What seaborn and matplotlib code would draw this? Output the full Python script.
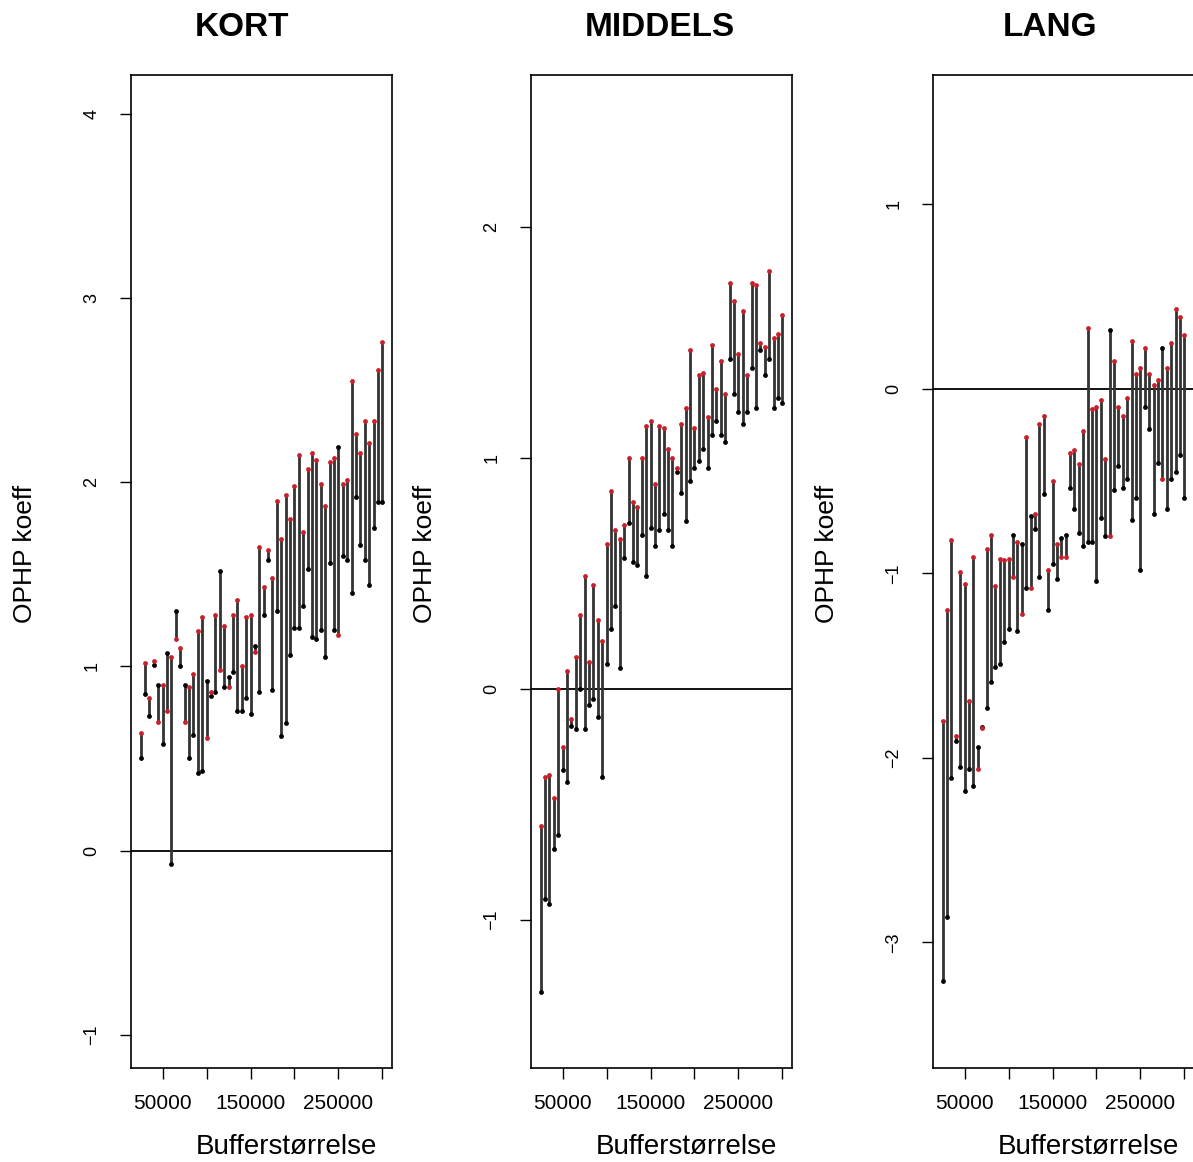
import pandas as pd
import matplotlib
matplotlib.use("Agg")
import matplotlib.pyplot as plt
import seaborn as sns

# Buffer sizes (x) shared by the three panels
buffer_size = [25000, 30000, 35000, 40000, 45000, 50000, 55000, 60000, 65000, 70000,
               75000, 80000, 85000, 90000, 95000, 100000, 105000, 110000, 115000, 120000,
               125000, 130000, 135000, 140000, 145000, 150000, 155000, 160000, 165000, 170000,
               175000, 180000, 185000, 190000, 195000, 200000, 205000, 210000, 215000, 220000,
               225000, 230000, 235000, 240000, 245000, 250000, 255000, 260000, 265000, 270000,
               275000, 280000, 285000, 290000, 295000, 300000]

# KORT: black end / red end of each segment
kort_black = [0.50, 0.85, 0.73, 1.01, 0.90, 0.58, 1.07, -0.07, 1.30, 1.00,
              0.90, 0.50, 0.63, 0.42, 0.43, 0.92, 0.84, 0.86, 1.52, 0.89,
              0.94, 0.97, 0.76, 0.76, 0.83, 0.74, 1.11, 0.86, 1.28, 1.58,
              0.87, 1.30, 0.62, 0.69, 1.06, 1.21, 1.21, 1.33, 1.53, 1.16,
              1.15, 1.20, 1.05, 1.56, 1.20, 2.19, 1.60, 1.58, 1.40, 1.92,
              1.66, 1.58, 1.44, 1.75, 1.89, 1.89]
kort_red = [0.64, 1.02, 0.83, 1.03, 0.70, 0.90, 0.76, 1.05, 1.15, 1.10,
            0.70, 0.89, 0.96, 1.19, 1.27, 0.61, 0.86, 1.28, 0.98, 1.22,
            0.89, 1.28, 1.36, 1.00, 1.27, 1.28, 1.08, 1.65, 1.43, 1.63,
            1.48, 1.90, 1.69, 1.93, 1.80, 1.98, 2.15, 1.73, 2.07, 2.16,
            2.12, 1.99, 1.87, 2.11, 2.13, 1.17, 1.99, 2.01, 2.55, 2.26,
            2.16, 2.33, 2.21, 2.33, 2.61, 2.76]

# MIDDELS
middels_black = [-1.31, -0.91, -0.93, -0.69, -0.63, -0.35, -0.40, -0.16, -0.17, 0.00,
                 -0.17, -0.07, -0.04, -0.12, -0.38, 0.11, 0.26, 0.36, 0.09, 0.57,
                 0.72, 0.55, 0.54, 0.67, 0.49, 0.70, 0.62, 0.69, 0.76, 0.69,
                 0.62, 0.94, 0.85, 0.73, 0.90, 0.96, 0.99, 1.04, 0.96, 1.10,
                 1.16, 1.10, 1.07, 1.43, 1.28, 1.20, 1.15, 1.20, 1.39, 1.22,
                 1.47, 1.36, 1.43, 1.22, 1.26, 1.24]
middels_red = [-0.59, -0.38, -0.37, -0.47, 0.00, -0.25, 0.08, -0.13, 0.14, 0.32,
               0.49, 0.12, 0.45, 0.30, 0.21, 0.63, 0.86, 0.69, 0.65, 0.71,
               1.00, 0.81, 0.79, 1.00, 1.14, 1.16, 0.89, 1.14, 1.13, 1.04,
               1.00, 0.96, 1.15, 1.22, 1.47, 1.13, 1.36, 1.37, 1.18, 1.49,
               1.30, 1.42, 1.28, 1.76, 1.68, 1.45, 1.64, 1.36, 1.76, 1.75,
               1.50, 1.48, 1.81, 1.52, 1.54, 1.62]

# LANG
lang_black = [-3.21, -2.86, -2.11, -1.91, -2.05, -2.18, -2.06, -2.15, -1.94, -1.83,
              -1.73, -1.59, -1.51, -1.49, -1.37, -1.30, -0.79, -1.31, -0.84, -1.08,
              -0.69, -0.76, -1.02, -0.57, -1.20, -0.95, -1.03, -0.81, -0.79, -0.54,
              -0.65, -0.78, -0.85, -0.83, -0.83, -1.04, -0.70, -0.80, 0.32, -0.55,
              -0.42, -0.54, -0.49, -0.71, -0.59, -0.98, -0.10, -0.22, -0.68, -0.40,
              0.22, -0.65, -0.49, -0.45, -0.36, -0.59]
lang_red = [-1.80, -1.20, -0.82, -1.88, -0.99, -1.06, -1.69, -0.91, -2.06, -1.84,
            -0.87, -0.79, -1.07, -0.92, -0.93, -0.92, -1.02, -0.83, -1.22, -0.26,
            -1.08, -0.68, -0.19, -0.15, -0.98, -0.50, -0.84, -0.91, -0.91, -0.35,
            -0.33, -0.41, -0.23, 0.33, -0.11, -0.10, -0.06, -0.38, -0.80, 0.15,
            -0.10, -0.15, -0.05, 0.26, 0.08, 0.11, 0.22, 0.08, 0.02, 0.05,
            -0.49, 0.11, 0.25, 0.43, 0.39, 0.29]

titles = ["KORT", "MIDDELS", "LANG"]
y_ticks = [[-1, 0, 1, 2, 3, 4], [-1, 0, 1, 2], [-3, -2, -1, 0, 1]]
y_limits = [(-1.18, 4.21), (-1.64, 2.66), (-3.68, 1.70)]
x_ticks = [50000, 100000, 150000, 200000, 250000, 300000]
x_tick_labels = ["50000", "", "150000", "", "250000", ""]

sns.set_style("white")
plt.rcParams["font.family"] = ["Liberation Sans", "DejaVu Sans"]
plt.rcParams["text.color"] = "black"
plt.rcParams["axes.labelcolor"] = "black"
plt.rcParams["xtick.color"] = "black"
plt.rcParams["ytick.color"] = "black"

W, H = 1193, 1162
fig = plt.figure(figsize=(W / 100, H / 100), dpi=100)

panels = [(kort_black, kort_red), (middels_black, middels_red), (lang_black, lang_red)]
left_px = [131, 531, 933]
title_x = [242, 660, 1050]

for k, (black, red) in enumerate(panels):
    df = pd.DataFrame({"x": buffer_size, "black": black, "red": red})
    ax = fig.add_axes([left_px[k] / W, 1 - 1068 / H, 261 / W, 993 / H])
    ax.vlines(df["x"], df["black"], df["red"], color="#333333", linewidth=2.0, zorder=2)
    sns.scatterplot(data=df, x="x", y="black", color="black", s=12, linewidth=0, ax=ax, zorder=3)
    sns.scatterplot(data=df, x="x", y="red", color="#c8202a", s=12, linewidth=0, ax=ax, zorder=3)
    ax.axhline(0, color="black", linewidth=1.3, zorder=1)
    ax.set_xlim(14000, 311000)
    ax.set_ylim(*y_limits[k])
    ax.set_yticks(y_ticks[k])
    ax.set_yticklabels([str(v).replace("-", "\u2212") for v in y_ticks[k]],
                       rotation=90, va="center", fontsize=13)
    ax.set_xticks(x_ticks)
    ax.set_xticklabels(x_tick_labels, fontsize=15)
    ax.tick_params(axis="both", direction="out", length=8, width=1, color="black",
                   left=True, bottom=True)
    ax.tick_params(axis="x", pad=11)
    ax.tick_params(axis="y", pad=14)
    for sp in ax.spines.values():
        sp.set_color("black")
        sp.set_linewidth(1.2)
    ax.set_xlabel("Bufferstørrelse", fontsize=20)
    ax.set_ylabel("OPHP koeff", fontsize=19)
    ax.xaxis.set_label_coords(0.595, -0.08)
    ax.xaxis.label.set_va("center")
    ax.yaxis.set_label_coords(-0.405, 0.518)
    ax.yaxis.label.set_va("center")
    fig.text(title_x[k] / W, 1 - 28 / H, titles[k], ha="center", va="center",
             fontsize=24, fontweight="bold")

fig.savefig("out.png", dpi=100)
